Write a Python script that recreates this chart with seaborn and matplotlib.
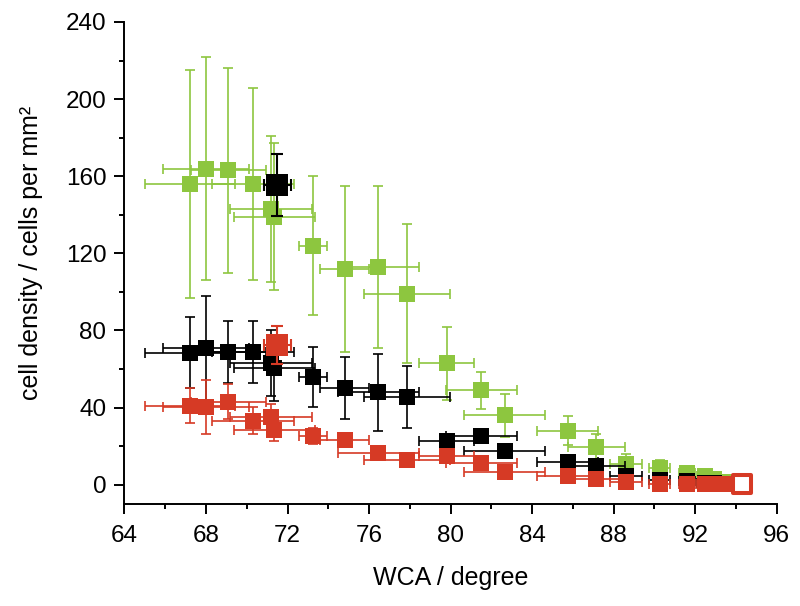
import matplotlib
matplotlib.use('Agg')
import matplotlib.pyplot as plt
from matplotlib.ticker import MultipleLocator
import seaborn as sns

# Water contact angle of each sample (shared by the three series)
wca = [67.2, 68.0, 69.1, 70.3, 71.2, 71.35, 73.25, 74.8, 76.45, 77.85, 79.8,
       81.5, 82.65, 85.75, 87.15, 88.6, 90.25, 91.6, 92.5, 92.9, 93.5]
wca_err = [2.2, 2.1, 1.85, 2.0, 2.0, 2.0, 0.7, 1.2, 2.0, 2.1, 1.35,
           1.75, 2.0, 1.5, 1.4, 0.8, 0.5, 0.4, 0.4, 0.3, 0.3]

# cell densities (cells per mm2)
green_density = [156, 164, 163, 156, 143, 139, 124, 112, 113, 99, 63,
                 49, 36, 28, 19.5, 11, 8.8, 6.2, 4.7, 3.1, 1.6]
green_err = [59, 58, 53, 50, 38, 38, 36, 43, 42, 36, 19,
             9.5, 11, 7.5, 7, 5, 4, 3, 2.5, 2, 1.5]

black_density = [68.5, 71, 69, 69, 63, 60.5, 56, 50, 48, 45.6, 22.5,
                 25.4, 17.6, 11.6, 9.8, 4.3, 2.6, 1.7, 1.0, 0.8, 0.5]
black_err = [18.5, 27, 16, 16, 17, 17, 15.5, 16, 20, 16, 3.5,
             3.5, 3, 3, 3, 2.5, 2, 2, 1.5, 1, 1]

red_density = [41, 40.4, 43, 33.3, 35, 28.5, 25.2, 23.3, 16.6, 13, 15,
               11.4, 6.4, 4.7, 3, 1.5, 0.5, 0.5, 0.5, 0.5, 0.5]
red_err = [9, 14, 9, 7, 7, 6, 4, 3, 3, 2, 2.5,
           2.5, 2, 2, 2, 1.5, 1, 1, 1, 1, 1]

# reference samples drawn with larger markers
ref_wca = [71.5]
ref_wca_err = [0.65]
ref_black = [155.5]
ref_black_err = [16]
ref_red = [72.5]
ref_red_err = [10]
open_wca = [94.3]
open_red = [0.5]

GREEN = '#8dc63f'
BLACK = '#000000'
RED = '#d63a25'

sns.set_style('ticks')
plt.rcParams['font.family'] = ['Liberation Sans', 'DejaVu Sans']
plt.rcParams['text.color'] = 'black'
plt.rcParams['axes.labelcolor'] = 'black'

fig = plt.figure(figsize=(8, 6.06), dpi=100)
ax = fig.add_axes([0.1556, 0.1683, 0.8154, 0.7954])

series = [(green_density, green_err, GREEN, 2),
          (black_density, black_err, BLACK, 4),
          (red_density, red_err, RED, 6)]
for dens, err, col, z in series:
    ax.errorbar(wca, dens, xerr=wca_err, yerr=err, fmt='none', ecolor=col,
                elinewidth=1.2, capsize=3.8, capthick=1.2, zorder=z)
    sns.scatterplot(x=wca, y=dens, color=col, marker='s', s=117,
                    linewidth=0, ax=ax, zorder=z + 0.5)

# big markers
ax.errorbar(ref_wca, ref_black, xerr=ref_wca_err, yerr=ref_black_err, fmt='none',
            ecolor=BLACK, elinewidth=1.5, capsize=4, capthick=1.5, zorder=4)
sns.scatterplot(x=ref_wca, y=ref_black, color=BLACK, marker='s', s=272,
                linewidth=0, ax=ax, zorder=4.5)
ax.errorbar(ref_wca, ref_red, xerr=ref_wca_err, yerr=ref_red_err, fmt='none',
            ecolor=RED, elinewidth=1.5, capsize=4, capthick=1.5, zorder=6)
sns.scatterplot(x=ref_wca, y=ref_red, color=RED, marker='s', s=272,
                linewidth=0, ax=ax, zorder=6.5)
sns.scatterplot(x=open_wca, y=open_red, marker='s', s=170, facecolor='white',
                edgecolor=RED, linewidth=2.9, ax=ax, zorder=7)

ax.set_xlim(64, 96)
ax.set_ylim(-10, 240)
ax.xaxis.set_major_locator(MultipleLocator(4))
ax.xaxis.set_minor_locator(MultipleLocator(2))
ax.yaxis.set_major_locator(MultipleLocator(40))
ax.yaxis.set_minor_locator(MultipleLocator(20))
ax.tick_params(which='major', direction='out', length=7, width=1.4,
               labelsize=17.5, colors='black')
ax.tick_params(axis='x', pad=8)
ax.tick_params(axis='y', pad=6)
ax.tick_params(which='minor', direction='out', length=3.6, width=1.4, colors='black')
sns.despine(ax=ax)
for s in ['left', 'bottom']:
    ax.spines[s].set_linewidth(1.4)
    ax.spines[s].set_color('black')

ax.set_xlabel('WCA / degree', fontsize=18)
ax.set_ylabel('cell density / cells per mm²', fontsize=18)
ax.xaxis.set_label_coords(0.5, -0.128)
ax.yaxis.set_label_coords(-0.125, 0.52)

fig.savefig('out.png', dpi=100)
